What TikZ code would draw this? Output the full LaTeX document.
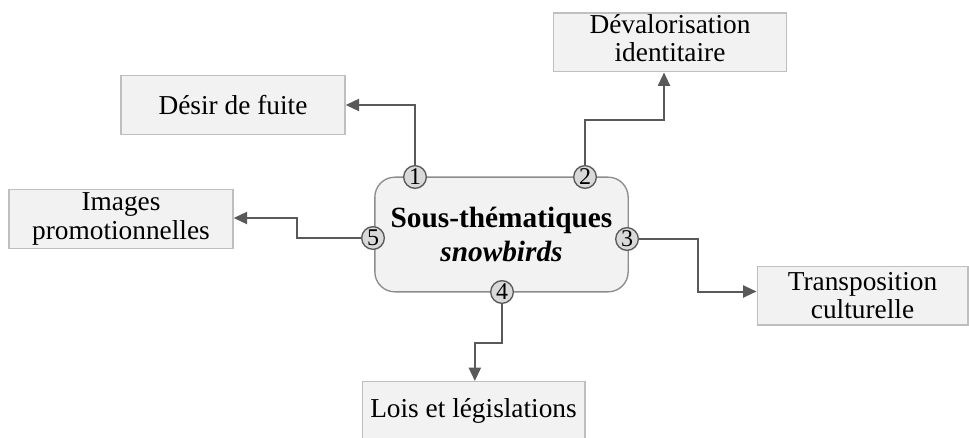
\documentclass[tikz,border=0pt]{standalone}
\usepackage{fontspec}
\setmainfont{Liberation Serif}
\usetikzlibrary{arrows.meta}
\definecolor{boxfill}{HTML}{F2F2F2}
\definecolor{boxline}{HTML}{BFBFBF}
\definecolor{hubline}{HTML}{8C8C8C}
\definecolor{dotfill}{HTML}{D9D9D9}
\definecolor{linkcol}{HTML}{595959}
\tikzset{
  topic/.style={draw=boxline, fill=boxfill, line width=1pt, inner sep=0pt,
    align=center, font=\fontsize{20.5}{21.5}\selectfont},
  hub/.style={draw=hubline, fill=boxfill, line width=1pt, rounded corners=15pt,
    inner sep=0pt, align=center, font=\fontsize{22}{25}\selectfont\bfseries},
  dot/.style={circle, draw=linkcol, fill=dotfill, line width=1pt, inner sep=0pt,
    minimum size=17pt, font=\fontsize{18}{18}\selectfont},
  link/.style={draw=linkcol, line width=1.5pt, -{Triangle[length=10pt,width=9pt]}}
}
\begin{document}
\begin{tikzpicture}[x=0.75pt, y=-0.75pt]
  \useasboundingbox (0,0) rectangle (969,438);

  % central theme
  \node[hub, minimum width=190pt, minimum height=86pt] (hub) at (501.5,234.5)
    {Sous-thématiques\\\textit{snowbirds}};

  % sub-themes
  \node[topic, minimum width=168pt, minimum height=44pt] (desir) at (233,105) {Désir de fuite};
  \node[topic, minimum width=175pt, minimum height=44pt] (deval) at (670,42.5) {};
  \node[align=center, font=\fontsize{20.5}{21.5}\selectfont, inner sep=0pt] (devaltext)
    at (670,38) {Dévalorisation\\identitaire};
  \node[topic, minimum width=158pt, minimum height=44pt] (transp) at (862.5,295.5) {Transposition\\culturelle};
  \node[topic, minimum width=167pt, minimum height=44pt] (lois) at (473.5,411) {Lois et législations};
  \node[topic, minimum width=168pt, minimum height=44pt] (images) at (121,219) {Images\\promotionnelles};

  % numbered connection points on the hub
  \node[dot] (c1) at (415,177) {1};
  \node[dot] (c2) at (585,177) {2};
  \node[dot] (c3) at (627,239) {3};
  \node[dot] (c4) at (502,292) {4};
  \node[dot] (c5) at (373,238) {5};

  % bend points of the connectors
  \coordinate (b2a) at (585,120);
  \coordinate (b2b) at (664,120);
  \coordinate (b3) at (698,239);
  \coordinate (b4) at (502,343);
  \coordinate (b5) at (297,238);

  % connectors
  \draw[link] (c1.north) |- (desir.east);
  \draw[link] (c2.north) -- (b2a) -- (b2b) -- (b2b |- deval.south);
  \draw[link] (c3.east) -- (b3) |- ([yshift=3pt]transp.west);
  \draw[link] (c4.south) -- (b4) -| ([xshift=1pt]lois.north);
  \draw[link] (c5.west) -- (b5) |- ([yshift=0.75pt]images.east);
\end{tikzpicture}
\end{document}
